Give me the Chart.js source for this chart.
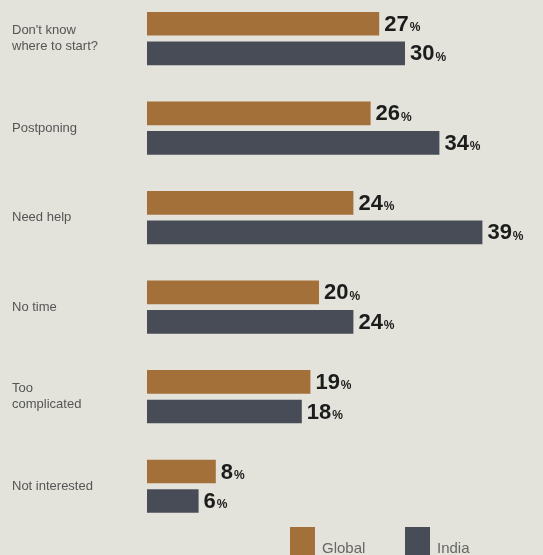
<!DOCTYPE html>
<html>
<head>
<meta charset="utf-8">
<script src="https://cdn.jsdelivr.net/npm/chart.js@4/dist/chart.umd.min.js"></script>
<style>
  html, body { margin: 0; padding: 0; background: #e3e3db; overflow: hidden; }
  #wrap { position: absolute; left: 0; top: -14px; width: 543px; height: 580px; }
</style>
</head>
<body>
<div id="wrap"><canvas id="chart"></canvas></div>
<script>
// Survey answers, share of respondents (%)
const categories = [
  ["Don't know", "where to start?"],
  "Postponing",
  "Need help",
  "No time",
  ["Too", "complicated"],
  "Not interested"
];
const globalValues = [27, 26, 24, 20, 19, 8];
const indiaValues = [30, 34, 39, 24, 18, 6];

const labelFont = "'Liberation Sans Narrow', 'Liberation Sans', Arial, sans-serif";

// draws "27%" style labels at the end of each bar
const valueLabels = {
  id: "valueLabels",
  afterDatasetsDraw(chart) {
    const ctx = chart.ctx;
    ctx.save();
    ctx.fillStyle = "#1c1c1c";
    ctx.textBaseline = "middle";
    chart.data.datasets.forEach((ds, i) => {
      chart.getDatasetMeta(i).data.forEach((bar, j) => {
        let x = bar.x + 5;
        let y = bar.y + 1;
        ctx.font = "bold 22px " + labelFont;
        let num = String(ds.data[j]);
        ctx.fillText(num, x, y);
        let w = ctx.measureText(num).width;
        ctx.font = "bold 12px " + labelFont;
        ctx.fillText("%", x + w + 1, y + 3);
      });
    });
    ctx.restore();
  }
};

// small legend in the bottom right corner, partly cut off by the page edge
const cornerLegend = {
  id: "cornerLegend",
  afterDraw(chart) {
    const ctx = chart.ctx;
    const xs = [290, 405];
    ctx.save();
    ctx.textBaseline = "alphabetic";
    chart.data.datasets.forEach((ds, i) => {
      ctx.fillStyle = ds.backgroundColor;
      ctx.fillRect(xs[i], 541, 25, 30);
      ctx.fillStyle = "#666";
      ctx.font = "15px " + labelFont;
      ctx.fillText(ds.label, xs[i] + 32, 567);
    });
    ctx.restore();
  }
};

let ctx = document.getElementById("chart").getContext("2d");
let chart = new Chart(ctx, {
  type: "bar",
  data: {
    labels: categories,
    datasets: [
      {
        label: "Global",
        data: globalValues,
        backgroundColor: "#a4703a",
        borderWidth: 0,
        categoryPercentage: 0.66,
        barPercentage: 0.8
      },
      {
        label: "India",
        data: indiaValues,
        backgroundColor: "#484c57",
        borderWidth: 0,
        categoryPercentage: 0.66,
        barPercentage: 0.8
      }
    ]
  },
  options: {
    indexAxis: "y",
    responsive: true,
    maintainAspectRatio: false,
    animation: false,
    layout: { padding: { left: 12, right: 9, top: 0, bottom: 35 } },
    plugins: {
      tooltip: { enabled: false },
      legend: { display: false }
    },
    scales: {
      x: {
        display: false,
        min: 0,
        max: 45
      },
      y: {
        grid: { display: false },
        border: { display: false },
        afterFit: axis => { axis.width = 135; },
        ticks: {
          crossAlign: "far",
          color: "#555",
          padding: 0,
          font: { family: labelFont, size: 13 }
        }
      }
    }
  },
  plugins: [valueLabels, cornerLegend]
});
</script>
</body>
</html>
